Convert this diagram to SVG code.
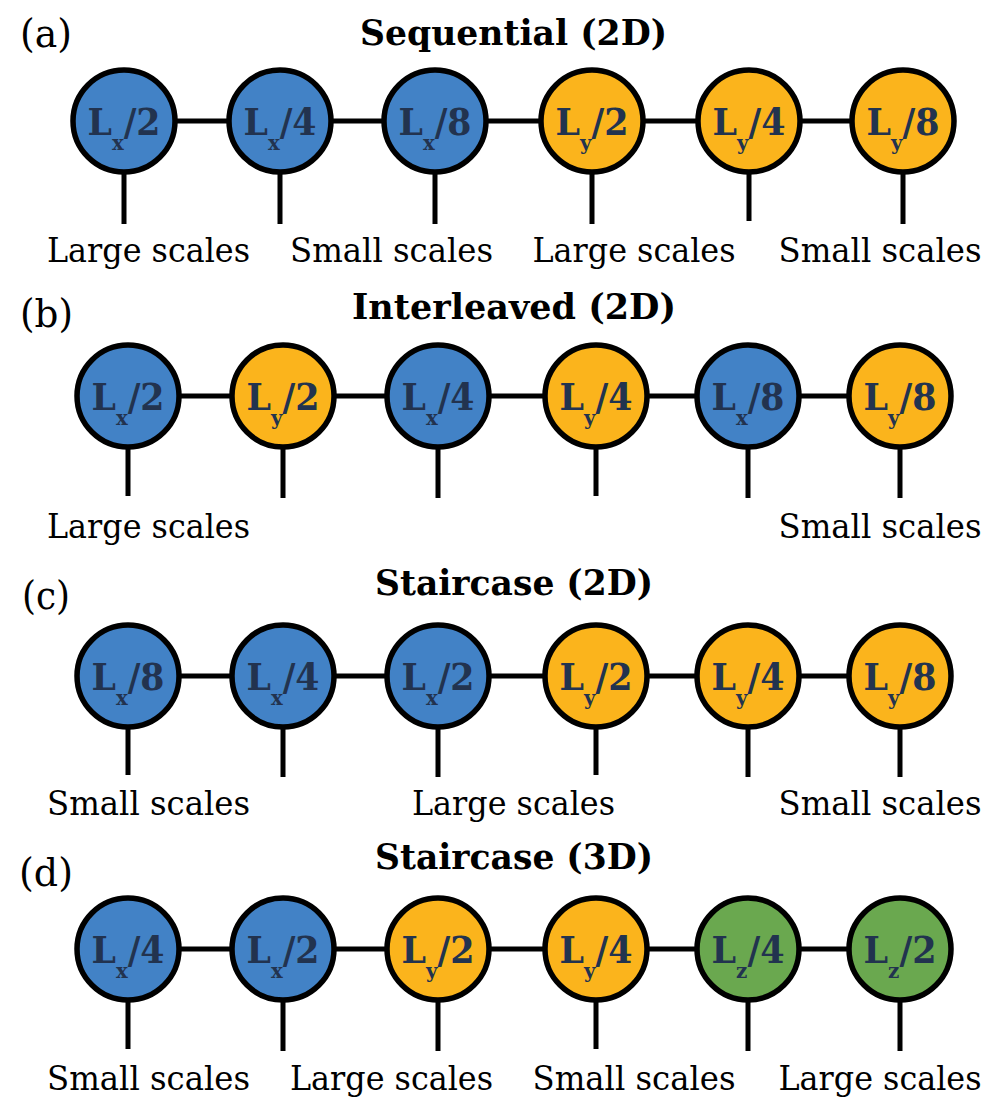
<svg xmlns="http://www.w3.org/2000/svg" width="997" height="1109" viewBox="0 0 997 1109">
<style>
.bg{fill:#fff}
.ln{stroke:#000;stroke-width:5;fill:none}
.c{stroke:#000;stroke-width:5.5}
.bx{fill:#4282c6}
.by{fill:#fbb41c}
.bz{fill:#6aa84f}
.nl{font-family:"DejaVu Serif",serif;font-weight:bold;font-size:37px;fill:#22334f;text-anchor:middle}
.sub{font-size:21px}
.ttl{font-family:"DejaVu Serif",serif;font-weight:bold;font-size:36px;fill:#000;text-anchor:middle}
.pl{font-family:"DejaVu Serif",serif;font-size:40px;fill:#000}
.lb{font-family:"DejaVu Serif",serif;font-size:33px;fill:#000;text-anchor:middle}
</style>
<rect class="bg" x="0" y="0" width="997" height="1109"/>
<g id="connectors">
<path class="ln" d="M124 121H903M124 121V224M280 121V224M435 121V224M592 121V224M749 121V221M903 121V224"/>
<path class="ln" d="M128 396H900M128 396V496M283 396V498M438 396V498M596 396V496M748 396V498M900 396V498"/>
<path class="ln" d="M128 676H900M128 676V775M283 676V777M438 676V777M596 676V775M748 676V777M900 676V777"/>
<path class="ln" d="M128 949H900M128 949V1049M283 949V1051M438 949V1051M596 949V1049M748 949V1051M900 949V1051"/>
</g>
<g id="panel-a">
<text class="pl" x="20" y="47" textLength="52" lengthAdjust="spacingAndGlyphs">(a)</text>
<text class="ttl" x="513.5" y="45" textLength="307" lengthAdjust="spacingAndGlyphs">Sequential (2D)</text>
<g id="a1"><circle class="c bx" cx="124" cy="121" r="51"/><text class="nl" x="124" y="135" textLength="73" lengthAdjust="spacingAndGlyphs">L<tspan class="sub" dy="15">x</tspan><tspan dy="-15">/2</tspan></text></g>
<g id="a2"><circle class="c bx" cx="280" cy="121" r="51"/><text class="nl" x="280" y="135" textLength="73" lengthAdjust="spacingAndGlyphs">L<tspan class="sub" dy="15">x</tspan><tspan dy="-15">/4</tspan></text></g>
<g id="a3"><circle class="c bx" cx="435" cy="121" r="51"/><text class="nl" x="435" y="135" textLength="73" lengthAdjust="spacingAndGlyphs">L<tspan class="sub" dy="15">x</tspan><tspan dy="-15">/8</tspan></text></g>
<g id="a4"><circle class="c by" cx="592" cy="121" r="51"/><text class="nl" x="592" y="135" textLength="73" lengthAdjust="spacingAndGlyphs">L<tspan class="sub" dy="15">y</tspan><tspan dy="-15">/2</tspan></text></g>
<g id="a5"><circle class="c by" cx="749" cy="121" r="51"/><text class="nl" x="749" y="135" textLength="73" lengthAdjust="spacingAndGlyphs">L<tspan class="sub" dy="15">y</tspan><tspan dy="-15">/4</tspan></text></g>
<g id="a6"><circle class="c by" cx="903" cy="121" r="51"/><text class="nl" x="903" y="135" textLength="73" lengthAdjust="spacingAndGlyphs">L<tspan class="sub" dy="15">y</tspan><tspan dy="-15">/8</tspan></text></g>
<text class="lb" x="148.5" y="262" textLength="203" lengthAdjust="spacingAndGlyphs">Large scales</text>
<text class="lb" x="391.5" y="262" textLength="203" lengthAdjust="spacingAndGlyphs">Small scales</text>
<text class="lb" x="634" y="262" textLength="203" lengthAdjust="spacingAndGlyphs">Large scales</text>
<text class="lb" x="880" y="262" textLength="203" lengthAdjust="spacingAndGlyphs">Small scales</text>
</g>
<g id="panel-b">
<text class="pl" x="20" y="327" textLength="53" lengthAdjust="spacingAndGlyphs">(b)</text>
<text class="ttl" x="514" y="319" textLength="324" lengthAdjust="spacingAndGlyphs">Interleaved (2D)</text>
<g id="b1"><circle class="c bx" cx="128" cy="396" r="51"/><text class="nl" x="128" y="410" textLength="73" lengthAdjust="spacingAndGlyphs">L<tspan class="sub" dy="15">x</tspan><tspan dy="-15">/2</tspan></text></g>
<g id="b2"><circle class="c by" cx="283" cy="396" r="51"/><text class="nl" x="283" y="410" textLength="73" lengthAdjust="spacingAndGlyphs">L<tspan class="sub" dy="15">y</tspan><tspan dy="-15">/2</tspan></text></g>
<g id="b3"><circle class="c bx" cx="438" cy="396" r="51"/><text class="nl" x="438" y="410" textLength="73" lengthAdjust="spacingAndGlyphs">L<tspan class="sub" dy="15">x</tspan><tspan dy="-15">/4</tspan></text></g>
<g id="b4"><circle class="c by" cx="596" cy="396" r="51"/><text class="nl" x="596" y="410" textLength="73" lengthAdjust="spacingAndGlyphs">L<tspan class="sub" dy="15">y</tspan><tspan dy="-15">/4</tspan></text></g>
<g id="b5"><circle class="c bx" cx="748" cy="396" r="51"/><text class="nl" x="748" y="410" textLength="73" lengthAdjust="spacingAndGlyphs">L<tspan class="sub" dy="15">x</tspan><tspan dy="-15">/8</tspan></text></g>
<g id="b6"><circle class="c by" cx="900" cy="396" r="51"/><text class="nl" x="900" y="410" textLength="73" lengthAdjust="spacingAndGlyphs">L<tspan class="sub" dy="15">y</tspan><tspan dy="-15">/8</tspan></text></g>
<text class="lb" x="148.5" y="538" textLength="203" lengthAdjust="spacingAndGlyphs">Large scales</text>
<text class="lb" x="880" y="538" textLength="203" lengthAdjust="spacingAndGlyphs">Small scales</text>
</g>
<g id="panel-c">
<text class="pl" x="22" y="609" textLength="48" lengthAdjust="spacingAndGlyphs">(c)</text>
<text class="ttl" x="514" y="595" textLength="278" lengthAdjust="spacingAndGlyphs">Staircase (2D)</text>
<g id="c1"><circle class="c bx" cx="128" cy="676" r="51"/><text class="nl" x="128" y="690" textLength="73" lengthAdjust="spacingAndGlyphs">L<tspan class="sub" dy="15">x</tspan><tspan dy="-15">/8</tspan></text></g>
<g id="c2"><circle class="c bx" cx="283" cy="676" r="51"/><text class="nl" x="283" y="690" textLength="73" lengthAdjust="spacingAndGlyphs">L<tspan class="sub" dy="15">x</tspan><tspan dy="-15">/4</tspan></text></g>
<g id="c3"><circle class="c bx" cx="438" cy="676" r="51"/><text class="nl" x="438" y="690" textLength="73" lengthAdjust="spacingAndGlyphs">L<tspan class="sub" dy="15">x</tspan><tspan dy="-15">/2</tspan></text></g>
<g id="c4"><circle class="c by" cx="596" cy="676" r="51"/><text class="nl" x="596" y="690" textLength="73" lengthAdjust="spacingAndGlyphs">L<tspan class="sub" dy="15">y</tspan><tspan dy="-15">/2</tspan></text></g>
<g id="c5"><circle class="c by" cx="748" cy="676" r="51"/><text class="nl" x="748" y="690" textLength="73" lengthAdjust="spacingAndGlyphs">L<tspan class="sub" dy="15">y</tspan><tspan dy="-15">/4</tspan></text></g>
<g id="c6"><circle class="c by" cx="900" cy="676" r="51"/><text class="nl" x="900" y="690" textLength="73" lengthAdjust="spacingAndGlyphs">L<tspan class="sub" dy="15">y</tspan><tspan dy="-15">/8</tspan></text></g>
<text class="lb" x="148.5" y="815" textLength="203" lengthAdjust="spacingAndGlyphs">Small scales</text>
<text class="lb" x="513.5" y="815" textLength="203" lengthAdjust="spacingAndGlyphs">Large scales</text>
<text class="lb" x="880" y="815" textLength="203" lengthAdjust="spacingAndGlyphs">Small scales</text>
</g>
<g id="panel-d">
<text class="pl" x="19" y="886" textLength="54" lengthAdjust="spacingAndGlyphs">(d)</text>
<text class="ttl" x="514" y="869" textLength="278" lengthAdjust="spacingAndGlyphs">Staircase (3D)</text>
<g id="d1"><circle class="c bx" cx="128" cy="949" r="51"/><text class="nl" x="128" y="963" textLength="73" lengthAdjust="spacingAndGlyphs">L<tspan class="sub" dy="15">x</tspan><tspan dy="-15">/4</tspan></text></g>
<g id="d2"><circle class="c bx" cx="283" cy="949" r="51"/><text class="nl" x="283" y="963" textLength="73" lengthAdjust="spacingAndGlyphs">L<tspan class="sub" dy="15">x</tspan><tspan dy="-15">/2</tspan></text></g>
<g id="d3"><circle class="c by" cx="438" cy="949" r="51"/><text class="nl" x="438" y="963" textLength="73" lengthAdjust="spacingAndGlyphs">L<tspan class="sub" dy="15">y</tspan><tspan dy="-15">/2</tspan></text></g>
<g id="d4"><circle class="c by" cx="596" cy="949" r="51"/><text class="nl" x="596" y="963" textLength="73" lengthAdjust="spacingAndGlyphs">L<tspan class="sub" dy="15">y</tspan><tspan dy="-15">/4</tspan></text></g>
<g id="d5"><circle class="c bz" cx="748" cy="949" r="51"/><text class="nl" x="748" y="963" textLength="73" lengthAdjust="spacingAndGlyphs">L<tspan class="sub" dy="15">z</tspan><tspan dy="-15">/4</tspan></text></g>
<g id="d6"><circle class="c bz" cx="900" cy="949" r="51"/><text class="nl" x="900" y="963" textLength="73" lengthAdjust="spacingAndGlyphs">L<tspan class="sub" dy="15">z</tspan><tspan dy="-15">/2</tspan></text></g>
<text class="lb" x="148.5" y="1090" textLength="203" lengthAdjust="spacingAndGlyphs">Small scales</text>
<text class="lb" x="391.5" y="1090" textLength="203" lengthAdjust="spacingAndGlyphs">Large scales</text>
<text class="lb" x="634" y="1090" textLength="203" lengthAdjust="spacingAndGlyphs">Small scales</text>
<text class="lb" x="880" y="1090" textLength="203" lengthAdjust="spacingAndGlyphs">Large scales</text>
</g>
</svg>
